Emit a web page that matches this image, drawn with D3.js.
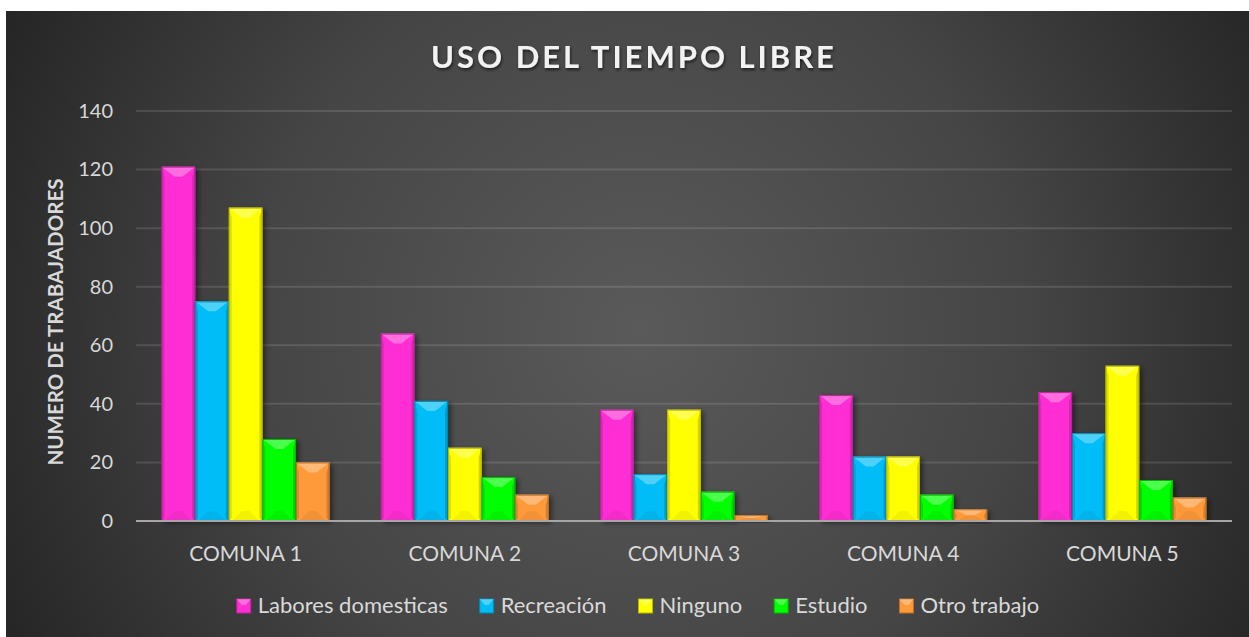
<!DOCTYPE html>
<html>
<head>
<meta charset="utf-8">
<script src="https://cdn.jsdelivr.net/npm/d3@7"></script>
<style>
  body { margin: 0; background: #fff; }
  svg { display: block; }
</style>
</head>
<body>
<div id="chart"></div>
<script>
const categories = ['COMUNA 1', 'COMUNA 2', 'COMUNA 3', 'COMUNA 4', 'COMUNA 5']
const seriesNames = ['Labores domesticas', 'Recreación', 'Ninguno', 'Estudio', 'Otro trabajo']
const seriesColors = ['#ff2fd4', '#00bdf7', '#ffff00', '#00ff00', '#ff9a3a']
const laboresDomesticas = [121, 64, 38, 43, 44]
const recreacion = [75, 41, 16, 22, 30]
const ninguno = [107, 25, 38, 22, 53]
const estudio = [28, 15, 10, 9, 14]
const otroTrabajo = [20, 9, 2, 4, 8]
const yTicks = [0, 20, 40, 60, 80, 100, 120, 140]

const seriesValues = [laboresDomesticas, recreacion, ninguno, estudio, otroTrabajo]

const width = 1249
const height = 637
let dimensions = {
    width: width,
    height: height,
    margin: { top: 111, right: 17, bottom: 116, left: 136 },
}
dimensions.boundedWidth = dimensions.width - dimensions.margin.left - dimensions.margin.right
dimensions.boundedHeight = dimensions.height - dimensions.margin.top - dimensions.margin.bottom

const font = 'Lato, "Open Sans", sans-serif'

const svg = d3.select('#chart')
    .append('svg')
    .attr('width', dimensions.width)
    .attr('height', dimensions.height)

const defs = svg.append('defs')
const bg = defs.append('radialGradient')
    .attr('id', 'bg')
    .attr('gradientUnits', 'userSpaceOnUse')
    .attr('cx', 640).attr('cy', 330).attr('r', 700)
bg.append('stop').attr('offset', '0%').attr('stop-color', '#5a5a5a')
bg.append('stop').attr('offset', '55%').attr('stop-color', '#454545')
bg.append('stop').attr('offset', '100%').attr('stop-color', '#262626')

const shadow = defs.append('filter')
    .attr('id', 'shadow')
    .attr('x', '-20%').attr('y', '-20%').attr('width', '160%').attr('height', '140%')
shadow.append('feDropShadow')
    .attr('dx', 3).attr('dy', 2).attr('stdDeviation', 2.5)
    .attr('flood-color', '#000').attr('flood-opacity', 0.45)

const titleShadow = defs.append('filter').attr('id', 'tshadow')
titleShadow.append('feDropShadow')
    .attr('dx', 1).attr('dy', 2).attr('stdDeviation', 1.5)
    .attr('flood-color', '#000').attr('flood-opacity', 0.6)

svg.append('rect')
    .attr('x', 6).attr('y', 11)
    .attr('width', width - 6).attr('height', height - 11)
    .attr('fill', 'url(#bg)')

const bounds = svg.append('g')
    .attr('transform', `translate(${dimensions.margin.left}, ${dimensions.margin.top})`)

// scales
const xScale = d3.scaleBand()
    .domain(categories)
    .range([0, dimensions.boundedWidth])
    .paddingInner(0.234)
    .paddingOuter(0.117)

const xSeries = d3.scaleBand()
    .domain(seriesNames)
    .range([0, xScale.bandwidth()])

const yScale = d3.scaleLinear()
    .domain([0, 140])
    .range([dimensions.boundedHeight, 0])

// gridlines
bounds.append('g')
    .selectAll('line')
    .data(yTicks.filter(d => d > 0))
    .join('line')
    .attr('x1', 0)
    .attr('x2', dimensions.boundedWidth)
    .attr('y1', d => yScale(d))
    .attr('y2', d => yScale(d))
    .attr('stroke', 'rgba(255,255,255,0.12)')
    .attr('stroke-width', 2)

// y axis labels
const yAxis = bounds.append('g')
    .call(d3.axisLeft(yScale).tickValues(yTicks).tickSize(0).tickPadding(23))
yAxis.select('.domain').remove()
yAxis.selectAll('text')
    .attr('fill', '#d9d9d9')
    .style('font-family', font)
    .style('font-size', '20px')

// bars
const rows = categories.map((c, i) => ({
    category: c,
    values: seriesNames.map((s, j) => ({ series: s, value: seriesValues[j][i], color: seriesColors[j] })),
}))

const groups = bounds.append('g')
    .selectAll('g')
    .data(rows)
    .join('g')
    .attr('transform', d => `translate(${xScale(d.category)}, 0)`)

const bars = groups.selectAll('g')
    .data(d => d.values)
    .join('g')

bars.each(function (d) {
    const g = d3.select(this)
    const x0 = xSeries(d.series)
    const w = xSeries.bandwidth()
    const x1 = x0 + w
    const y0 = yScale(d.value)
    const y1 = yScale(0)
    const h = y1 - y0
    const bt = Math.min(10, h / 2)
    const bx = Math.min(13, w / 2 - 2)
    const bs = Math.min(3, h / 3)
    const base = d3.color(d.color)

    g.append('rect')
        .attr('x', x0).attr('y', y0)
        .attr('width', w).attr('height', h)
        .attr('fill', d.color)
        .attr('filter', 'url(#shadow)')
    // side bevels
    g.append('polygon')
        .attr('points', [[x0, y0], [x0 + bs, y0 + bt], [x0 + bs, y1 - bs], [x0, y1]].join(' '))
        .attr('fill', '#000').attr('opacity', 0.12)
    g.append('polygon')
        .attr('points', [[x1, y0], [x1 - bs, y0 + bt], [x1 - bs, y1 - bs], [x1, y1]].join(' '))
        .attr('fill', '#000').attr('opacity', 0.16)
    // bottom bevel
    g.append('polygon')
        .attr('points', [[x0 + bs, y1], [x1 - bs, y1], [x1 - bx, y1 - bt], [x0 + bx, y1 - bt]].join(' '))
        .attr('fill', '#000').attr('opacity', 0.05)
    // top bevel
    g.append('polygon')
        .attr('points', [[x0, y0], [x1, y0], [x1 - bx, y0 + bt], [x0 + bx, y0 + bt]].join(' '))
        .attr('fill', '#fff').attr('opacity', 0.3)
    g.append('rect')
        .attr('x', x0 + 0.5).attr('y', y0 + 0.5)
        .attr('width', w - 1).attr('height', Math.max(0, h - 1))
        .attr('fill', 'none')
        .attr('stroke', base.darker(0.9))
        .attr('stroke-width', 1)
})

// x axis
bounds.append('line')
    .attr('x1', 0)
    .attr('x2', dimensions.boundedWidth)
    .attr('y1', dimensions.boundedHeight)
    .attr('y2', dimensions.boundedHeight)
    .attr('stroke', '#a6a6a6')
    .attr('stroke-width', 2)

const xAxis = bounds.append('g')
    .attr('transform', `translate(0, ${dimensions.boundedHeight})`)
    .call(d3.axisBottom(xScale).tickSize(0).tickPadding(0))
xAxis.select('.domain').remove()
xAxis.selectAll('text')
    .attr('y', 40)
    .attr('dy', 0)
    .attr('fill', '#d9d9d9')
    .style('font-family', font)
    .style('font-size', '21px')

// y axis title
svg.append('text')
    .attr('transform', 'translate(63, 322) rotate(-90)')
    .attr('text-anchor', 'middle')
    .attr('fill', '#d9d9d9')
    .style('font-family', font)
    .style('font-weight', 'bold')
    .style('font-size', '20.5px')
    .text('NUMERO DE TRABAJADORES')

// title
svg.append('text')
    .attr('x', 634)
    .attr('y', 68)
    .attr('text-anchor', 'middle')
    .attr('fill', '#f2f2f2')
    .attr('filter', 'url(#tshadow)')
    .style('font-family', font)
    .style('font-weight', 'bold')
    .style('font-size', '31px')
    .style('letter-spacing', '3px')
    .text('USO DEL TIEMPO LIBRE')

// legend
const legend = svg.append('g')
const items = legend.selectAll('g')
    .data(seriesNames.map((s, i) => ({ name: s, color: seriesColors[i] })))
    .join('g')

items.append('rect')
    .attr('width', 14).attr('height', 14)
    .attr('y', 599)
    .attr('fill', d => d.color)
    .attr('stroke', d => d3.color(d.color).darker(0.9))
items.append('polygon')
    .attr('points', '0,599 14,599 9,605 5,605')
    .attr('fill', '#fff').attr('opacity', 0.3)
items.append('text')
    .attr('x', 21)
    .attr('y', 613)
    .attr('fill', '#d9d9d9')
    .style('font-family', font)
    .style('font-size', '22px')
    .text(d => d.name)

const gap = 32
let cursor = 0
const offsets = []
items.each(function () {
    offsets.push(cursor)
    cursor += 21 + d3.select(this).select('text').node().getComputedTextLength() + gap
})
const totalWidth = cursor - gap
const startX = 638 - totalWidth / 2
items.attr('transform', (d, i) => `translate(${startX + offsets[i]}, 0)`)
</script>
</body>
</html>
